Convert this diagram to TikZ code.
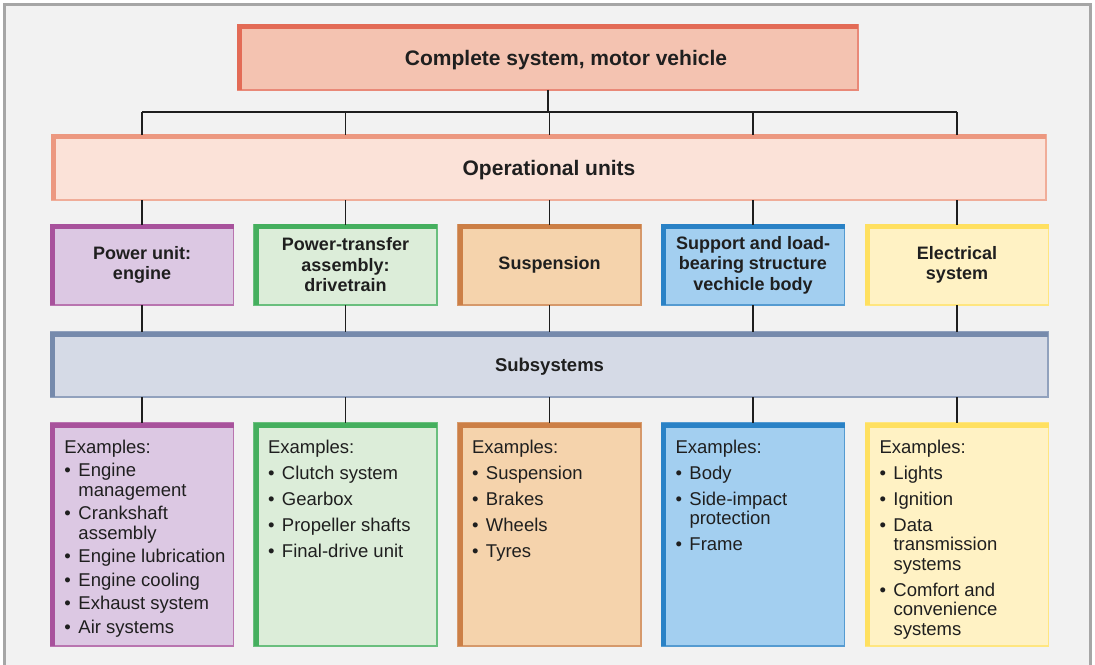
\documentclass[tikz,border=0pt]{standalone}
\usepackage{fontspec}
\setmainfont{Liberation Sans}
\definecolor{bgc}{HTML}{F2F2F2}
\definecolor{framec}{HTML}{A6A6A6}
\definecolor{topF}{HTML}{F4C3B1}\definecolor{topB}{HTML}{E36B56}
\definecolor{opsF}{HTML}{FBE2D8}\definecolor{opsB}{HTML}{EC9880}
\definecolor{purF}{HTML}{DCC8E3}\definecolor{purB}{HTML}{A8529C}
\definecolor{grnF}{HTML}{DCEDD9}\definecolor{grnB}{HTML}{45AF5E}
\definecolor{orgF}{HTML}{F5D3AC}\definecolor{orgB}{HTML}{CC7F46}
\definecolor{bluF}{HTML}{A3CFF0}\definecolor{bluB}{HTML}{2A82C6}
\definecolor{yelF}{HTML}{FFF2C4}\definecolor{yelB}{HTML}{FFE060}
\definecolor{subF}{HTML}{D5DAE6}\definecolor{subB}{HTML}{768AAC}
\definecolor{linec}{HTML}{1E1E1E}
\tikzset{
 panel/.style 2 args={draw=#1!80!white, fill=#2, line width=1.3bp, inner sep=0pt, outer sep=0pt, text=black!88},
 headA/.style={font=\bfseries\fontsize{21bp}{24bp}\selectfont, text depth=0pt},
 headB/.style={font=\bfseries\fontsize{18bp}{20.5bp}\selectfont, align=center},
 headC/.style={font=\bfseries\fontsize{18.5bp}{21bp}\selectfont, text depth=0pt},
 unitbox/.style={minimum width=183bp, minimum height=80bp},
 exbox/.style={minimum width=183bp, minimum height=223bp},
 conn/.style={draw=linec, line width=1.2bp},
 exlist/.style={anchor=base west, inner sep=0pt, outer sep=0pt, text=black!88, font=\fontsize{18.5bp}{19.5bp}\selectfont},
}
\newcommand\boxedge[2]{\draw[#2, line width=5bp, line join=miter] ([xshift=2bp]#1.south west) -- ([xshift=2bp,yshift=-2bp]#1.north west) -- ([yshift=-2bp]#1.north east);}
\newcommand\itm[2][6.5bp]{\par\vskip#1\relax\hangindent=14bp\hangafter=1\noindent\makebox[14bp][l]{\textbullet}#2}
\newcommand\exlist[1]{\vtop{\hsize=200bp\parindent=0pt\parskip=0pt\noindent Examples:#1}}
\begin{document}
\begin{tikzpicture}[x=1bp,y=-1bp]
\useasboundingbox (0,0) rectangle (1095,665);
\fill[bgc] (4,4) rectangle (1091,665);
\draw[framec, line width=3bp] (4.5,665) -- (4.5,4.5) -- (1090.5,4.5) -- (1090.5,665);

\node[panel={topB}{topF}, headA, minimum width=620bp, minimum height=65bp] (top) at (548,57.5) {\hspace*{36bp}Complete system, motor vehicle};
\node[panel={opsB}{opsF}, headA, minimum width=994bp, minimum height=65bp] (ops) at (549,167.5) {Operational units};

\node[panel={purB}{purF}, headB, unitbox] (u1) at (142,265) {Power unit:\\engine};
\node[panel={grnB}{grnF}, headB, unitbox] (u2) at (345.5,265) {Power-transfer\\assembly:\\drivetrain};
\node[panel={orgB}{orgF}, headB, unitbox] (u3) at (549.5,265) {Suspension};
\node[panel={bluB}{bluF}, headB, unitbox] (u4) at (753,265) {Support and load-\\bearing structure\\vechicle body};
\node[panel={yelB}{yelF}, headB, unitbox] (u5) at (957,265) {Electrical\\system};

\node[panel={subB}{subF}, headC, minimum width=997bp, minimum height=65bp] (sub) at (549.5,364.5) {Subsystems};

\node[panel={purB}{purF}, exbox] (e1) at (142,534.5) {};
\node[panel={grnB}{grnF}, exbox] (e2) at (345.5,534.5) {};
\node[panel={orgB}{orgF}, exbox] (e3) at (549.5,534.5) {};
\node[panel={bluB}{bluF}, exbox] (e4) at (753,534.5) {};
\node[panel={yelB}{yelF}, exbox] (e5) at (957,534.5) {};

\boxedge{top}{topB}
\boxedge{ops}{opsB}
\boxedge{sub}{subB}
\boxedge{u1}{purB}\boxedge{u2}{grnB}\boxedge{u3}{orgB}\boxedge{u4}{bluB}\boxedge{u5}{yelB}
\boxedge{e1}{purB}\boxedge{e2}{grnB}\boxedge{e3}{orgB}\boxedge{e4}{bluB}\boxedge{e5}{yelB}

\node[exlist] (t1) at ([xshift=14bp,yshift=-30bp]e1.north west) {\exlist{%
 \itm[4bp]{Engine\newline management}%
 \itm[4bp]{Crankshaft\newline assembly}%
 \itm[4bp]{Engine lubrication}%
 \itm[4bp]{Engine cooling}%
 \itm[4bp]{Exhaust system}%
 \itm[4bp]{Air systems}}};
\node[exlist] (t2) at ([xshift=14bp,yshift=-30bp]e2.north west) {\exlist{%
 \itm{Clutch system}%
 \itm{Gearbox}%
 \itm{Propeller shafts}%
 \itm{Final-drive unit}}};
\node[exlist] (t3) at ([xshift=14bp,yshift=-30bp]e3.north west) {\exlist{%
 \itm{Suspension}%
 \itm{Brakes}%
 \itm{Wheels}%
 \itm{Tyres}}};
\node[exlist] (t4) at ([xshift=14bp,yshift=-30bp]e4.north west) {\exlist{%
 \itm{Body}%
 \itm{Side-impact\newline protection}%
 \itm{Frame}}};
\node[exlist] (t5) at ([xshift=14bp,yshift=-30bp]e5.north west) {\exlist{%
 \itm{Lights}%
 \itm{Ignition}%
 \itm{Data\newline transmission\newline systems}%
 \itm{Comfort and\newline convenience\newline systems}}};

\coordinate (busL) at (142,112);
\draw[conn] (top.south) -- (top.south |- busL);
\draw[conn] (busL -| u1) -- (busL -| u5);
\foreach \i in {1,...,5} {
 \draw[conn] (busL -| u\i) -- (ops.north -| u\i);
 \draw[conn] (ops.south -| u\i) -- (u\i.north);
 \draw[conn] (u\i.south) -- (sub.north -| u\i);
 \draw[conn] (sub.south -| u\i) -- (e\i.north);
}
\end{tikzpicture}
\end{document}
